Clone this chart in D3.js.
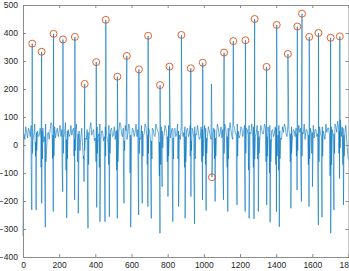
<!DOCTYPE html>
<html>
<head>
<meta charset="utf-8">
<script src="https://cdn.jsdelivr.net/npm/d3@7"></script>
<style>
  html, body { margin: 0; padding: 0; background: #fff; }
  svg { display: block; }
</style>
</head>
<body>
<svg width="349" height="271"></svg>
<script>
const svg = d3.select("svg");

// baseline samples, one every 10 samples from 0 to 1800
const baseStep = 10;
const baseY = [
  -325, 20, 45, 60, 30, 55, 40, 10, 50, 35,
  20, 60, 30, -20, 45, 55, 70, 40, 25, 60,
  50, 30, 65, 45, 20, 55, 40, 35, 60, 45,
  10, 50, 30, -10, 0, 20, 45, 60, 35, 55,
  25, 65, 40, 20, 50, 30, 55, 10, 40, 60,
  35, 20, 55, 45, 75, 30, 15, 50, 40, 60,
  25, 55, 45, 30, 60, 20, 50, 40, 65, 35,
  45, 15, 55, 30, 60, 40, 20, 50, 35, 60,
  30, 55, 45, 25, 60, 40, 50, 20, 55, 45,
  30, 60, 40, 15, 50, 65, 35, 45, 25, 55,
  40, 60, 30, 50, 20, 45, 55, 35, 60, 40,
  25, 50, 65, 30, 45, 55, 20, 60, 40, 50,
  35, 60, 45, 25, 55, 70, 40, 30, 60, 45,
  50, 25, 55, 40, 65, 30, 45, 20, 55, 40,
  60, 35, 50, 20, 45, 65, 30, 55, 40, 25,
  50, 60, 30, 45, 75, 40, 20, 55, 35, 60,
  45, 25, 55, 40, 65, 30, 50, 20, 45, 60,
  35, 55, 40, 65, 85, 50, 30, 60, 45, 20,
  -55
];

// in-between samples at 5, 15, ... 1795
const midY = [
  40, 65, 25, 50, 70, 20, 75, 45, 30, 60,
  50, 10, 75, 40, 20, 80, 35, 65, 50, 30,
  70, 55, 25, 80, 50, 30, 70, 55, 20, 75,
  40, -20, 60, -40, 25, 55, 20, 80, 45, 15,
  60, 30, 75, 50, 15, 65, 25, 70, 55, 30,
  65, 50, 25, 80, 40, 60, 70, 20, 75, 35,
  60, 30, 75, 55, 25, 70, 35, 75, 30, 60,
  20, 60, 35, 75, 50, 10, 65, 30, 70, 40,
  70, 25, 60, 55, 30, 75, 35, 70, 30, 65,
  55, 30, 70, 60, 25, 40, 70, 20, 65, 35,
  70, 25, 65, 35, 70, 60, 25, 75, 30, 65,
  55, 75, 35, 60, 80, 30, 70, 40, 75, 25,
  65, 30, 70, 60, 35, 45, 75, 65, 30, 70,
  30, 70, 40, 75, 35, 65, 70, 50, 30, 65,
  30, 70, 25, 65, 75, 40, 70, 35, 65, 55,
  30, 40, 70, 60, 45, 75, 55, 30, 70, 40,
  70, 55, 30, 75, 40, 65, 35, 75, 60, 35,
  65, 30, 75, 45, 60, 90, 65, 35, 70, -30
];

// marked peaks (circles)
const peakX = [51, 103, 169, 221, 287, 341, 405, 458, 522, 574, 641, 692, 758, 810, 876, 928,
  994, 1045, 1112, 1163, 1230, 1281, 1347, 1403, 1465, 1517, 1543, 1583, 1634, 1701, 1752];
const peakY = [362, 333, 397, 377, 386, 218, 296, 447, 244, 318, 270, 390, 214, 280, 393, 274,
  294, -115, 330, 371, 374, 450, 279, 429, 325, 423, 469, 386, 400, 383, 388];

// unmarked spike
const spikeX = [1042];
const spikeY = [218];

// downward spikes, with the values a few samples before and after each
const dipX = [48, 72, 103, 123, 167, 219, 241, 285, 305, 337, 359, 407, 425, 453, 477, 521, 558,
  595, 639, 659, 690, 709, 757, 769, 801, 828, 860, 896, 928, 948, 992, 1012, 1062, 1108,
  1132, 1183, 1228, 1250, 1277, 1301, 1347, 1366, 1401, 1417, 1481, 1515, 1539, 1581, 1600,
  1633, 1653, 1701, 1719, 1750, 1772];
const dipY = [-232, -232, -208, -294, -238, -167, -260, -196, -244, -131, -298, -223, -274, -274,
  -256, -262, -208, -294, -250, -208, -220, -262, -315, -149, -184, -274, -220, -262, -184,
  -282, -196, -234, -202, -196, -238, -214, -238, -262, -264, -238, -214, -276, -238, -292,
  -226, -161, -202, -220, -149, -286, -258, -315, -232, -120, -214];
const dipPreY = [-60, -40, -80, -100, -50, -70, -90, -40, -60, -50, -110, -60, -80, -50, -70,
  -90, -40, -100, -60, -50, -70, -90, -110, -30, -60, -90, -50, -80, -40, -100, -60, -70, -50,
  -60, -80, -70, -60, -90, -80, -50, -60, -100, -70, -90, -60, -40, -60, -70, -30, -90, -80,
  -110, -60, -30, -70];
const dipPostY = [-30, -20, -50, -60, -40, -30, -50, -20, -40, -20, -70, -30, -50, -40, -30,
  -60, -20, -60, -30, -40, -30, -50, -70, -10, -40, -50, -30, -60, -20, -50, -40, -30, -40,
  -30, -50, -40, -30, -60, -50, -30, -40, -60, -40, -50, -30, -20, -40, -50, -10, -60, -40,
  -70, -30, -10, -40];

const xTicks = d3.range(0, 1801, 200);
const yTicks = d3.range(-400, 501, 100);

const padL = 23, padR = 348.5, padT = 5, padB = 257;
const x = d3.scaleLinear().domain([0, 1800]).range([padL, padR]);
const y = d3.scaleLinear().domain([-400, 500]).range([padB, padT]);

// build the series
let pts = baseY.map((v, i) => ({ x: i * baseStep, y: v }));
midY.forEach((v, i) => pts.push({ x: i * baseStep + 5, y: v }));
peakX.forEach((v, i) => pts.push({ x: v, y: peakY[i] }));
spikeX.forEach((v, i) => pts.push({ x: v, y: spikeY[i] }));
dipX.forEach((v, i) => {
  pts.push({ x: v - 3, y: dipPreY[i] });
  pts.push({ x: v + 0.5, y: dipY[i] });
  pts.push({ x: v + 4, y: dipPostY[i] });
});
pts.sort((a, b) => a.x - b.x);

const line = d3.line().x(d => x(d.x)).y(d => y(d.y));

svg.append("path")
  .datum(pts)
  .attr("d", line)
  .attr("fill", "none")
  .attr("stroke", "#0072BD")
  .attr("stroke-width", 0.6)
  .attr("stroke-linejoin", "round");

svg.selectAll("circle.pk")
  .data(peakX)
  .join("circle")
  .attr("class", "pk")
  .attr("cx", d => x(d))
  .attr("cy", (d, i) => y(peakY[i]))
  .attr("r", 3.5)
  .attr("fill", "none")
  .attr("stroke", "#D95319")
  .attr("stroke-width", 0.9);

// axes box
const axisColor = "#8c8c8c";
const fmt = d3.format("d");
const xAxis = d3.axisBottom(x).tickValues(xTicks).tickFormat(fmt).tickSize(-3).tickPadding(5);
const yAxis = d3.axisLeft(y).tickValues(yTicks).tickFormat(fmt).tickSize(-3).tickPadding(5);

const gx = svg.append("g").attr("transform", `translate(0,${padB})`).call(xAxis);
const gy = svg.append("g").attr("transform", `translate(${padL},0)`).call(yAxis);
const gxTop = svg.append("g").attr("transform", `translate(0,${padT})`)
  .call(d3.axisTop(x).tickValues(xTicks).tickSize(-3).tickFormat(""));
const gyRight = svg.append("g").attr("transform", `translate(${padR},0)`)
  .call(d3.axisRight(y).tickValues(yTicks).tickSize(-3).tickFormat(""));

[gx, gy, gxTop, gyRight].forEach(g => {
  g.select(".domain").attr("stroke", axisColor).attr("stroke-width", 1);
  g.selectAll(".tick line").attr("stroke", axisColor);
  g.selectAll(".tick text")
    .attr("fill", "#262626")
    .style("font-family", "'Liberation Sans', Arial, sans-serif")
    .style("font-size", "8.5px");
});
</script>
</body>
</html>
